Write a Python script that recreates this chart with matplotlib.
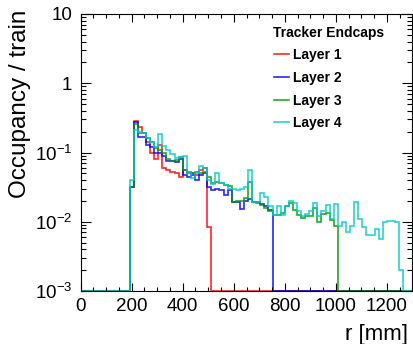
import numpy as np
import matplotlib
matplotlib.use("Agg")
import matplotlib.pyplot as plt
from matplotlib.lines import Line2D
from matplotlib.ticker import FixedLocator, FixedFormatter, MultipleLocator, LogLocator, NullFormatter

plt.rcParams['font.family'] = ['Liberation Sans', 'DejaVu Sans']
plt.rcParams['mathtext.fontset'] = 'custom'
plt.rcParams['mathtext.rm'] = 'Liberation Sans'
plt.rcParams['mathtext.it'] = 'Liberation Sans:italic'
plt.rcParams['mathtext.bf'] = 'Liberation Sans:bold'

# ---- data -------------------------------------------------------------
bin_width = 16.0          # mm
n_bins = 81               # 0 .. 1296 mm
first_bin = 12            # first filled bin (r = 192 mm)

layer1 = [0.032, 0.285, 0.23, 0.19, 0.14, 0.10, 0.08, 0.13, 0.06, 0.055,
          0.052, 0.05, 0.044, 0.056, 0.05, 0.05, 0.047, 0.055, 0.06, 0.0085]

layer2 = [0.032, 0.28, 0.17, 0.17, 0.13, 0.12, 0.10, 0.10, 0.09, 0.075,
          0.075, 0.072, 0.08, 0.048, 0.045, 0.048, 0.04, 0.048, 0.05, 0.032,
          0.029, 0.03, 0.029, 0.024, 0.029, 0.019, 0.019, 0.0155, 0.02, 0.021,
          0.019, 0.019, 0.018, 0.017, 0.015]

layer3 = [0.032, 0.26, 0.19, 0.19, 0.16, 0.14, 0.115, 0.11, 0.10, 0.08,
          0.075, 0.078, 0.085, 0.055, 0.052, 0.05, 0.052, 0.05, 0.052, 0.045,
          0.036, 0.038, 0.036, 0.034, 0.033, 0.019, 0.02, 0.02, 0.022, 0.038,
          0.019, 0.0185, 0.0175, 0.016, 0.0145, 0.0125, 0.0125, 0.0133, 0.017, 0.0185,
          0.015, 0.0125, 0.0115, 0.012, 0.012, 0.016, 0.010, 0.013, 0.0133, 0.0105,
          0.0087]

layer4 = [0.040, 0.21, 0.20, 0.19, 0.16, 0.14, 0.12, 0.185, 0.125, 0.11,
          0.095, 0.083, 0.085, 0.09, 0.052, 0.043, 0.05, 0.063, 0.06, 0.04,
          0.035, 0.05, 0.036, 0.034, 0.03, 0.03, 0.029, 0.03, 0.032, 0.056,
          0.019, 0.019, 0.026, 0.023, 0.017, 0.0125, 0.017, 0.0125, 0.017, 0.020,
          0.0185, 0.0145, 0.012, 0.013, 0.0145, 0.0185, 0.012, 0.0145, 0.0175, 0.011,
          0.018, 0.0087, 0.0098, 0.0072, 0.0087, 0.019, 0.011, 0.0085, 0.0065, 0.0065,
          0.0078, 0.0057, 0.0098, 0.0102, 0.0104, 0.0100, 0.002]

labels = ["Layer 1", "Layer 2", "Layer 3", "Layer 4"]
colors = ["#ff0000", "#0000ff", "#009900", "#00cccc"]
legend_title = "Tracker Endcaps"

y_ticks = [1e-3, 1e-2, 1e-1, 1, 10]
y_ticklabels = [r"$\mathregular{10^{-3}}$", r"$\mathregular{10^{-2}}$",
                r"$\mathregular{10^{-1}}$", "1", "10"]
x_ticks = [0, 200, 400, 600, 800, 1000, 1200]

# ---- figure -----------------------------------------------------------
W, H = 413, 344
fig = plt.figure(figsize=(W / 100, H / 100), dpi=100)
ax = fig.add_axes([80.7 / W, 53 / H, (412.3 - 80.7) / W, (291 - 14) / H])

ymin, ymax = 1e-3, 10
edges = np.arange(n_bins + 1) * bin_width

for vals, col in zip([layer1, layer2, layer3, layer4], colors):
    full = np.zeros(n_bins)
    full[first_bin:first_bin + len(vals)] = vals
    ax.stairs(np.clip(full, ymin, None), edges, color=col, lw=1.2, alpha=0.85)

ax.set_yscale('log')
ax.set_ylim(ymin, ymax)
ax.set_xlim(0, 1300)

ax.yaxis.set_major_locator(FixedLocator(y_ticks))
ax.yaxis.set_major_formatter(FixedFormatter(y_ticklabels))
ax.yaxis.set_minor_locator(LogLocator(base=10, subs=np.arange(2, 10)))
ax.yaxis.set_minor_formatter(NullFormatter())
ax.xaxis.set_major_locator(FixedLocator(x_ticks))
ax.xaxis.set_minor_locator(MultipleLocator(50))

ax.tick_params(which='both', direction='in', top=True, right=True, width=0.8)
ax.tick_params(axis='x', which='major', length=5.8, labelsize=13.5, pad=5)
ax.tick_params(axis='x', which='minor', length=2.9)
ax.tick_params(axis='y', which='major', length=7.2, labelsize=13.5, pad=6)
ax.tick_params(axis='y', which='minor', length=3.6)
for s in ax.spines.values():
    s.set_linewidth(0.8)

def fx(px):
    return px / W

def fy(py):
    return 1 - py / H

fig.text(fx(20), fy(10), "Occupancy / train", rotation=90, ha='center', va='top',
         fontsize=17.5)
fig.text(fx(408), fy(340), "r [mm]", ha='right', va='baseline', fontsize=16)

# legend
fig.text(fx(273), fy(36.7), legend_title, fontsize=10, fontweight='bold',
         ha='left', va='baseline')
for i, (lab, col) in enumerate(zip(labels, colors)):
    yc = 54.3 + i * 22.67
    fig.add_artist(Line2D([fx(274), fx(289)], [fy(yc), fy(yc)], color=col, lw=1.2,
                          alpha=0.85))
    fig.text(fx(293), fy(yc + 5), lab, fontsize=10, fontweight='bold',
             ha='left', va='baseline')

fig.savefig("out.png", dpi=100)
